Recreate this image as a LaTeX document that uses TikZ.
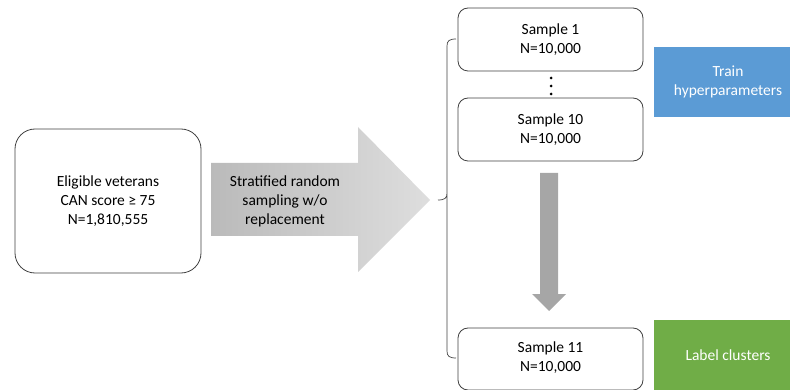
\documentclass[tikz,border=0pt]{standalone}
\usepackage{fontspec}
\setmainfont{Carlito}
\usetikzlibrary{positioning}
\definecolor{bluebox}{HTML}{5B9BD5}
\definecolor{greenbox}{HTML}{70AD47}
\definecolor{edge}{HTML}{404040}
\definecolor{darr}{HTML}{A6A6A6}
\begin{document}
\begin{tikzpicture}[x=1pt,y=-1pt,
  every node/.style={font=\fontsize{15.5}{19}\selectfont, align=center, inner sep=0pt},
  roundbox/.style={draw=edge, line width=0.8pt, fill=white, rounded corners=#1}]
\useasboundingbox (0,0) rectangle (790,390);
% left box
\draw[roundbox=20] (15,129) rectangle (201,273);
\node (elig) at (108,201) {Eligible veterans\\CAN score ≥ 75\\N=1,810,555};
% big arrow
\shade[left color=black!27, right color=black!13]
  (211,163) -- (358,163) -- (358,127) -- (430,200) -- (358,272) -- (358,236) -- (211,236) -- cycle;
\node (strat) at (285,201) {Stratified random\\sampling w/o\\replacement};
% bracket
\draw[edge, line width=0.7pt] (456,39) .. controls (449,39) and (447,41) .. (447,46)
  -- (447,193) .. controls (447,198) and (445,200) .. (438,200)
  (447,193) -- (447,207)
  -- (447,351) .. controls (447,356) and (449,358) .. (456,358);
\coordinate (brace) at (438,200);
% sample boxes
\draw[roundbox=10] (458,8) rectangle (643,71);
\node (s1) at (550.5,40) {Sample 1\\N=10,000};
\fill (551,78) circle (1.5) (551,86) circle (1.5) (551,94) circle (1.5);
\draw[roundbox=10] (458,98) rectangle (643,161);
\node (s10) at (550.5,130) {Sample 10\\N=10,000};
\draw[roundbox=10] (458,328) rectangle (643,390);
\node (s11) at (550.5,358) {Sample 11\\N=10,000};
% down arrow
\fill[darr] (540,173) -- (558,173) -- (558,294) -- (566,294) -- (549,311) -- (532,294) -- (540,294) -- cycle;
% colored boxes
\fill[bluebox] (654,47) rectangle (790,117);
\node[text=white] (train) at (728,82) {Train\\hyperparameters};
\fill[greenbox] (654,320) rectangle (790,390);
\node[text=white] (label) at (728,355) {Label clusters};
\end{tikzpicture}
\end{document}
